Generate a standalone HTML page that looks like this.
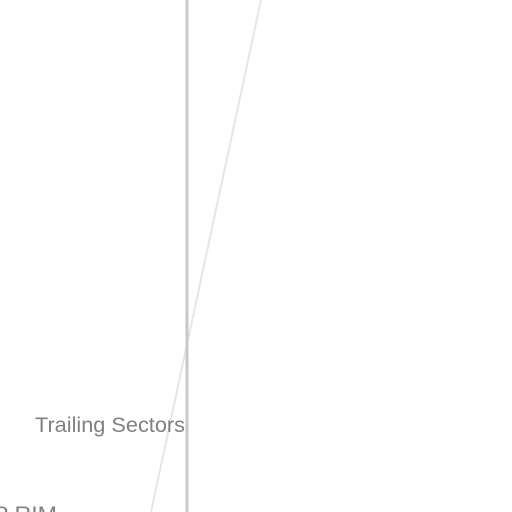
<!DOCTYPE html>
<html><head><style>
html,body{margin:0;padding:0;background:#fff;}
svg{display:block;font-family:"Liberation Sans",sans-serif;}
</style></head><body>
<svg id="c" width="512" height="512">
<line x1="187" y1="0" x2="187" y2="512" stroke="#c8c8c8" stroke-width="3"/>
<text x="35" y="432" font-size="21" textLength="150" lengthAdjust="spacingAndGlyphs" fill="#808080">Trailing Sectors</text>
<text x="-7" y="521" font-size="21" textLength="64" lengthAdjust="spacingAndGlyphs" fill="#808080">P RIM</text>
</svg>
<script>
const xs = [0, 1];
const ys = [0, 1];
function sx(v){return 151 + v*110;}
function sy(v){return 512 - v*512;}
const svg=document.getElementById('c');
const pts=xs.map((x,i)=>sx(x)+','+sy(ys[i])).join(' ');
const pl=document.createElementNS('http://www.w3.org/2000/svg','polyline');
pl.setAttribute('points',pts);
pl.setAttribute('fill','none');
pl.setAttribute('stroke','#e6e6e6');
pl.setAttribute('stroke-width','2');


svg.insertBefore(pl, svg.firstChild);
</script>
</body></html>
